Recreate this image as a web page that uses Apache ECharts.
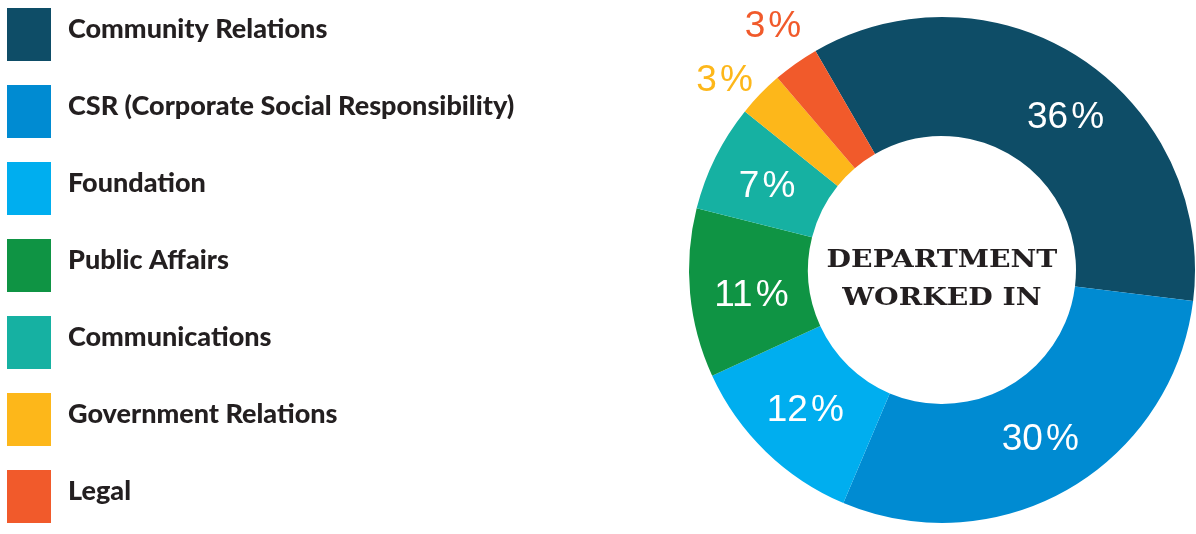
<!DOCTYPE html>
<html>
<head>
<meta charset="utf-8">
<script src="https://cdn.jsdelivr.net/npm/echarts@6/dist/echarts.min.js"></script>
<style>
  html, body { margin: 0; padding: 0; background: #ffffff; }
  #chart { width: 1196px; height: 534px; }
</style>
</head>
<body>
<div id="chart"></div>
<script>
// Share of respondents by department (percent)
const departments = [
  'Community Relations',
  'CSR (Corporate Social Responsibility)',
  'Foundation',
  'Public Affairs',
  'Communications',
  'Government Relations',
  'Legal'
];
const shares = [36, 30, 12, 11, 7, 3, 3];
const sliceColors = ['#0e4d67', '#008bd2', '#00aeef', '#0f9444', '#16b1a2', '#fdb71a', '#f15a2b'];
const centerTitle = ['DEPARTMENT', 'WORKED IN'];

// Layout settings
const INSIDE_MIN = 5;            // slices below this carry their label outside the ring
const PIE_CENTER = [942, 270];
// small hand-tuned label shifts (px) so labels sit clear of slice edges
const labelNudge = {
  'Community Relations': [15, 12],
  'Public Affairs': [5, 8],
  'Communications': [1, 4],
  'Government Relations': [-5, 17],
  'Legal': [2, -2]
};

const chart = echarts.init(document.getElementById('chart'), null, { renderer: 'canvas' });

const pieData = departments.map((name, i) => ({
  name,
  value: shares[i],
  itemStyle: { color: sliceColors[i] }
}));

const pctLabel = p => p.value + '\u200A%';
const pctFont = { fontFamily: 'Liberation Sans', fontSize: 37, fontWeight: 'normal', lineHeight: 30 };
const legendFont = { fontFamily: 'Lato', fontWeight: 900, fontSize: 27, color: '#231f20' };

chart.setOption({
  animation: false,
  backgroundColor: '#ffffff',
  legend: {
    orient: 'vertical',
    left: 2,
    top: 3,
    icon: 'rect',
    itemWidth: 44,
    itemHeight: 53,
    itemGap: 24,
    selectedMode: false,
    data: departments,
    formatter: name => '{t|' + name + '}',
    textStyle: Object.assign({
      rich: { t: Object.assign({ padding: [0, 0, 11, 12] }, legendFont) }
    }, legendFont)
  },
  graphic: [{
    type: 'text',
    x: PIE_CENTER[0],
    y: PIE_CENTER[1] + 9,
    scaleX: 1.13,
    style: {
      text: centerTitle.join('\n'),
      align: 'center',
      verticalAlign: 'middle',
      fontFamily: 'DejaVu Serif',
      fontWeight: 'bold',
      fontSize: 25,
      lineHeight: 38,
      fill: '#231f20'
    }
  }],
  series: [
    {
      type: 'pie',
      center: PIE_CENTER,
      radius: [134, 253],
      startAngle: 120,
      clockwise: true,
      avoidLabelOverlap: false,
      silent: true,
      labelLayout: { hideOverlap: false },
      data: pieData.map(d => ({
        ...d,
        label: { show: d.value >= INSIDE_MIN, offset: labelNudge[d.name] || [0, 0] }
      })),
      label: Object.assign({ position: 'inside', formatter: pctLabel, color: '#ffffff' }, pctFont),
      labelLine: { show: false }
    },
    {
      // transparent outer ring that carries the labels of the small slices
      type: 'pie',
      center: PIE_CENTER,
      radius: [272, 314],
      startAngle: 120,
      clockwise: true,
      avoidLabelOverlap: false,
      silent: true,
      legendHoverLink: false,
      labelLayout: { hideOverlap: false },
      data: pieData.map(d => ({
        name: d.name,
        value: d.value,
        itemStyle: { color: 'rgba(0,0,0,0)' },
        label: {
          show: d.value < INSIDE_MIN,
          color: d.itemStyle.color,
          offset: labelNudge[d.name] || [0, 0]
        }
      })),
      label: Object.assign({ position: 'inside', formatter: pctLabel }, pctFont),
      labelLine: { show: false }
    }
  ]
});
</script>
</body>
</html>
